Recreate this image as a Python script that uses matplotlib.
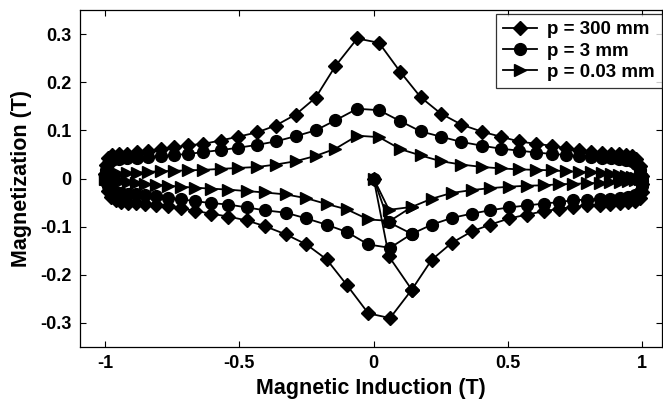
import matplotlib
matplotlib.use("Agg")
import matplotlib.pyplot as plt

# B grid of the lower branch (B rising from -1 to 1) and the upper branch (B falling)
B_LO = [-0.998, -0.99, -0.978, -0.96, -0.94, -0.914, -0.884, -0.85, -0.81, -0.765,
        -0.717, -0.665, -0.606, -0.541, -0.473, -0.405, -0.327, -0.25, -0.175, -0.10,
        -0.02, 0.061, 0.142, 0.216, 0.29, 0.365, 0.433, 0.504, 0.57, 0.634,
        0.69, 0.744, 0.793, 0.841, 0.88, 0.917, 0.948, 0.973, 0.99, 0.998, 1.0]
B_UP = [0.998, 0.99, 0.978, 0.96, 0.94, 0.914, 0.884, 0.85, 0.81, 0.765,
        0.717, 0.665, 0.606, 0.541, 0.473, 0.405, 0.327, 0.25, 0.175, 0.10,
        0.02, -0.061, -0.142, -0.216, -0.29, -0.365, -0.433, -0.504, -0.57, -0.634,
        -0.69, -0.744, -0.793, -0.841, -0.88, -0.917, -0.948, -0.973, -0.99, -0.998, -1.0]

# p = 300 mm
M300_LO = [-0.010, -0.026, -0.038, -0.044, -0.048, -0.050, -0.051, -0.052, -0.054, -0.058,
           -0.062, -0.067, -0.073, -0.079, -0.087, -0.099, -0.116, -0.137, -0.168, -0.221,
           -0.280, -0.290, -0.231, -0.169, -0.134, -0.110, -0.096, -0.083, -0.075, -0.068,
           -0.063, -0.059, -0.056, -0.054, -0.053, -0.051, -0.049, -0.046, -0.040, -0.028, -0.012]
M300_UP = [0.005, 0.025, 0.040, 0.046, 0.049, 0.051, 0.052, 0.053, 0.055, 0.059,
           0.063, 0.068, 0.072, 0.077, 0.087, 0.097, 0.112, 0.135, 0.169, 0.221,
           0.282, 0.291, 0.234, 0.168, 0.133, 0.110, 0.096, 0.087, 0.079, 0.072,
           0.069, 0.065, 0.062, 0.057, 0.055, 0.052, 0.050, 0.048, 0.042, 0.028, 0.010]
# p = 3 mm
M3_LO = [-0.005, -0.015, -0.024, -0.029, -0.031, -0.032, -0.033, -0.035, -0.037, -0.040,
         -0.043, -0.047, -0.051, -0.054, -0.060, -0.066, -0.071, -0.083, -0.096, -0.111,
         -0.137, -0.144, -0.115, -0.096, -0.082, -0.073, -0.066, -0.060, -0.056, -0.052,
         -0.049, -0.045, -0.044, -0.042, -0.042, -0.040, -0.038, -0.035, -0.027, -0.016, -0.005]
M3_UP = [0.004, 0.018, 0.030, 0.036, 0.039, 0.041, 0.042, 0.043, 0.044, 0.046,
         0.049, 0.051, 0.054, 0.058, 0.062, 0.068, 0.076, 0.087, 0.098, 0.119,
         0.142, 0.145, 0.121, 0.100, 0.088, 0.077, 0.070, 0.064, 0.059, 0.055,
         0.051, 0.049, 0.046, 0.045, 0.043, 0.042, 0.041, 0.038, 0.030, 0.018, 0.005]
# p = 0.03 mm
M003_LO = [-0.001, -0.002, -0.003, -0.005, -0.006, -0.008, -0.009, -0.011, -0.013, -0.015,
           -0.017, -0.019, -0.021, -0.023, -0.026, -0.029, -0.033, -0.041, -0.053, -0.064,
           -0.085, -0.088, -0.059, -0.042, -0.030, -0.024, -0.020, -0.017, -0.015, -0.014,
           -0.012, -0.011, -0.010, -0.009, -0.008, -0.007, -0.006, -0.004, -0.002, -0.001, 0.0]
M003_UP = [0.0, 0.001, 0.002, 0.004, 0.006, 0.008, 0.010, 0.011, 0.013, 0.014,
           0.015, 0.017, 0.018, 0.019, 0.021, 0.024, 0.029, 0.036, 0.048, 0.061,
           0.086, 0.089, 0.062, 0.047, 0.036, 0.029, 0.024, 0.022, 0.020, 0.018,
           0.017, 0.016, 0.015, 0.014, 0.012, 0.011, 0.009, 0.007, 0.004, 0.002, 0.0]

# first samples from the demagnetised state
B_INIT = [0.0, 0.057]
M300_INIT = [0.0, -0.162]
M3_INIT = [0.0, -0.091]
M003_INIT = [0.0, -0.065]

labels = ["p = 300 mm", "p = 3 mm", "p = 0.03 mm"]
markers = ["D", "o", ">"]
msizes = [7, 8.5, 8.5]

# where the first lower-branch pass joins the loop (B = 0.142)
JOIN = 22


def loop_path(m_init, m_lo, m_up):
    b = B_INIT + B_LO[JOIN:] + B_UP + B_LO[:JOIN + 1]
    m = m_init + m_lo[JOIN:] + m_up + m_lo[:JOIN + 1]
    return b, m


plt.rcParams['font.family'] = ['Liberation Sans', 'DejaVu Sans']
plt.rcParams['font.weight'] = 'bold'

fig = plt.figure(figsize=(6.63, 4.03), dpi=100)
ax = fig.add_axes([0.1207, 0.139, 0.878, 0.836])

series = [(M300_INIT, M300_LO, M300_UP), (M3_INIT, M3_LO, M3_UP), (M003_INIT, M003_LO, M003_UP)]
for (mi, ml, mu), lab, mk, ms in zip(series, labels, markers, msizes):
    b, m = loop_path(mi, ml, mu)
    ax.plot(b, m, color='black', lw=1.3, marker=mk, ms=ms, mfc='black', mec='black', label=lab)

ax.set_xlim(-1.093, 1.074)
ax.set_ylim(-0.35, 0.35)
ax.set_xticks([-1, -0.5, 0, 0.5, 1])
ax.set_xticklabels(['-1', '-0.5', '0', '0.5', '1'])
ax.set_yticks([-0.3, -0.2, -0.1, 0, 0.1, 0.2, 0.3])
ax.set_yticklabels(['-0.3', '-0.2', '-0.1', '0', '0.1', '0.2', '0.3'])
ax.tick_params(direction='in', top=True, right=True, length=4.5, width=0.8, labelsize=13, pad=6)
for s in ax.spines.values():
    s.set_linewidth(0.9)

ax.set_xlabel('Magnetic Induction (T)', fontsize=15.5, fontweight='bold', labelpad=4)
ax.set_ylabel('Magnetization (T)', fontsize=15.5, fontweight='bold', labelpad=6)

leg = ax.legend(loc='upper right', bbox_to_anchor=(1.0, 0.988), borderaxespad=0,
                fontsize=13.5, frameon=True, fancybox=False, edgecolor='black',
                handlelength=1.8, handletextpad=0.55, labelspacing=0.22, borderpad=0.38)
leg.get_frame().set_linewidth(0.9)

fig.savefig('out.png', dpi=100)
